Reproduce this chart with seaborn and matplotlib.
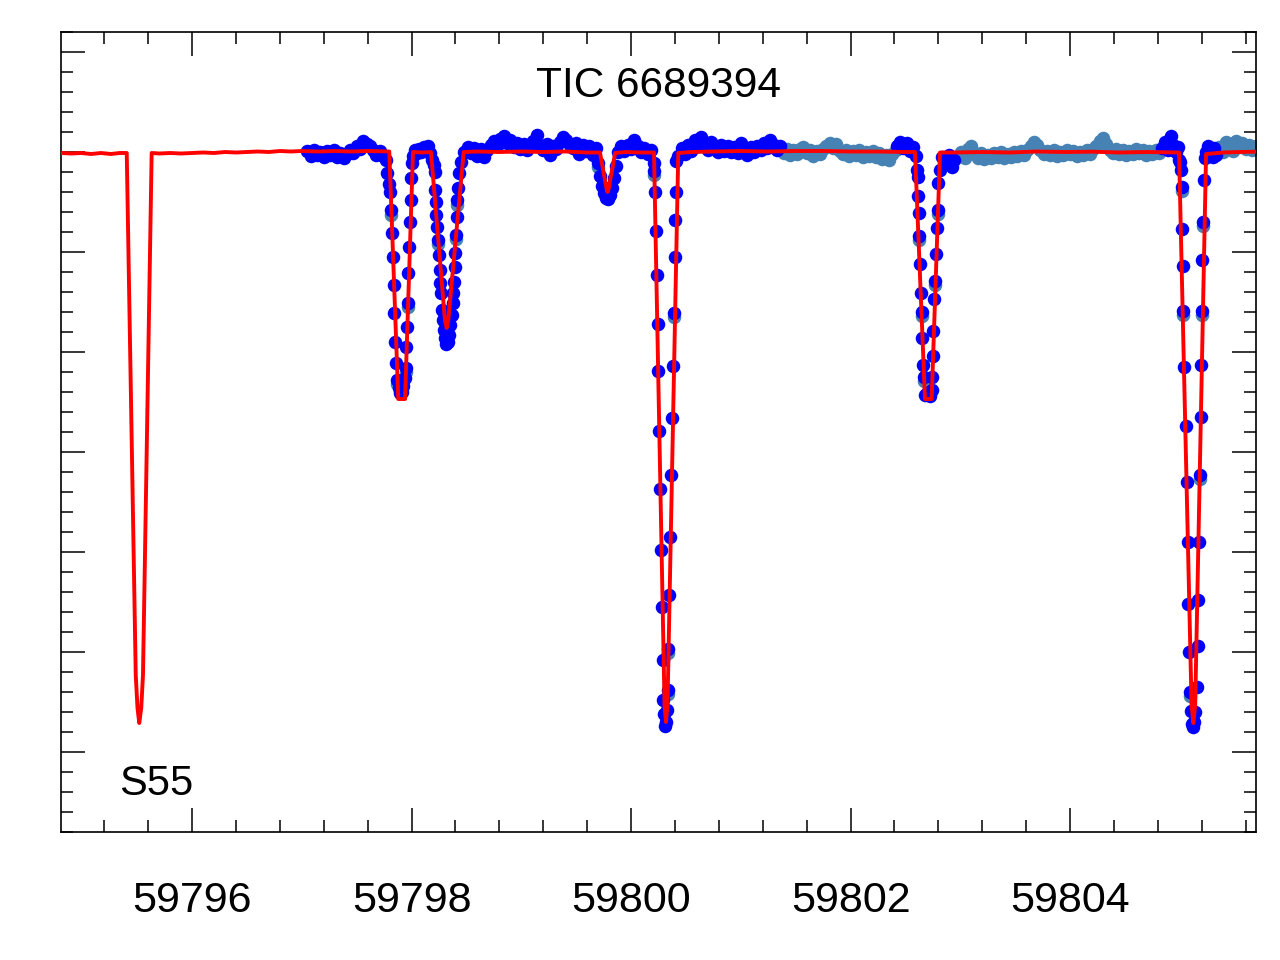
import numpy as np
import matplotlib
matplotlib.use('Agg')
import matplotlib.pyplot as plt
from matplotlib.ticker import MultipleLocator, FormatStrFormatter
import seaborn as sns

# Light curve of TIC 6689394, sector 55 (flux normalised to 1)

# dark blue points: detrended flux
blue_time = [
    # before first eclipse
    59797.05, 59797.08, 59797.11, 59797.14, 59797.17, 59797.20, 59797.23, 59797.26,
    59797.29, 59797.32, 59797.35, 59797.38, 59797.41, 59797.44, 59797.47, 59797.50,
    59797.53, 59797.56, 59797.59, 59797.62, 59797.65, 59797.68, 59797.71, 59797.74,
    59797.77,
    # eclipse A
    59797.778, 59797.796, 59797.804, 59797.815, 59797.826, 59797.830, 59797.836, 59797.842,
    59797.849, 59797.858, 59797.868, 59797.882, 59797.896, 59797.912, 59797.926, 59797.941,
    59797.950, 59797.953, 59797.962, 59797.968, 59797.972, 59797.980, 59797.986, 59797.993,
    59797.998, 59798.004,
    # between A and B
    59798.012, 59798.030, 59798.050, 59798.070, 59798.090, 59798.110, 59798.130, 59798.150,
    59798.170, 59798.185,
    # eclipse B
    59798.200, 59798.210, 59798.214, 59798.220, 59798.226, 59798.231, 59798.240, 59798.246,
    59798.256, 59798.262, 59798.268, 59798.276, 59798.286, 59798.296, 59798.306, 59798.316,
    59798.330, 59798.342, 59798.352, 59798.364, 59798.374, 59798.380, 59798.387, 59798.395,
    59798.399, 59798.405, 59798.415, 59798.418, 59798.426, 59798.436, 59798.448,
    # out of eclipse
    59798.48, 59798.51, 59798.54, 59798.57, 59798.60, 59798.63, 59798.66, 59798.69,
    59798.72, 59798.75, 59798.78, 59798.81, 59798.84, 59798.87, 59798.90, 59798.93,
    59798.96, 59798.99, 59799.02, 59799.05, 59799.08, 59799.11, 59799.14, 59799.17,
    59799.20, 59799.23, 59799.26, 59799.29, 59799.32, 59799.35, 59799.38, 59799.41,
    59799.44, 59799.47, 59799.50, 59799.53, 59799.56, 59799.59, 59799.62, 59799.65,
    59799.68,
    # shallow dip
    59799.700, 59799.715, 59799.732, 59799.750, 59799.770, 59799.790, 59799.808, 59799.826,
    59799.845, 59799.862,
    59799.88, 59799.91, 59799.94, 59799.97, 59800.00, 59800.03, 59800.06, 59800.09,
    59800.12, 59800.15, 59800.18,
    # eclipse C
    59800.205, 59800.210, 59800.218, 59800.226, 59800.234, 59800.242, 59800.249, 59800.257,
    59800.264, 59800.270, 59800.279, 59800.287, 59800.294, 59800.300, 59800.310, 59800.318,
    59800.325, 59800.333, 59800.340, 59800.347, 59800.356, 59800.366, 59800.373, 59800.380,
    59800.390, 59800.398, 59800.403, 59800.407, 59800.412,
    # after C
    59800.43, 59800.46, 59800.49, 59800.52, 59800.55, 59800.58, 59800.61, 59800.64,
    59800.67, 59800.70, 59800.73, 59800.76, 59800.79, 59800.82, 59800.85, 59800.88,
    59800.91, 59800.94, 59800.97, 59801.00, 59801.03, 59801.06, 59801.09, 59801.12,
    59801.15, 59801.18, 59801.21, 59801.24, 59801.27, 59801.30, 59801.33, 59801.36,
    # before D
    59802.42, 59802.45, 59802.48, 59802.51, 59802.54, 59802.57, 59802.60,
    # eclipse D
    59802.605, 59802.610, 59802.617, 59802.622, 59802.627, 59802.632, 59802.641, 59802.648,
    59802.653, 59802.660, 59802.665, 59802.678, 59802.700, 59802.722, 59802.740, 59802.746,
    59802.749, 59802.754, 59802.760, 59802.768, 59802.776, 59802.786, 59802.795, 59802.801,
    59802.815, 59802.830,
    59802.850, 59802.870, 59802.895, 59802.920, 59802.945,
    # before E
    59804.840, 59804.865, 59804.890, 59804.915, 59804.940, 59804.965, 59804.985, 59804.995,
    # eclipse E
    59805.005, 59805.012, 59805.017, 59805.022, 59805.026, 59805.032, 59805.041, 59805.054,
    59805.063, 59805.070, 59805.077, 59805.084, 59805.093, 59805.099, 59805.112, 59805.118,
    59805.128, 59805.140, 59805.152, 59805.162, 59805.168, 59805.176, 59805.184, 59805.190,
    59805.194, 59805.199, 59805.205, 59805.214, 59805.222, 59805.229,
    59805.240, 59805.255, 59805.270, 59805.285, 59805.300, 59805.315, 59805.330,
]
blue_flux = [
    1.001, 0.996, 1.002, 0.997, 1.000, 0.995, 1.001, 0.997,
    1.002, 0.995, 0.999, 0.994, 0.998, 1.002, 0.999, 1.006,
    1.003, 1.011, 1.008, 1.006, 1.002, 0.997, 1.001, 0.996,
    0.992,
    0.979, 0.968, 0.960, 0.942, 0.919, 0.895, 0.867, 0.839,
    0.810, 0.789, 0.772, 0.764, 0.759, 0.760, 0.766, 0.774,
    0.784, 0.805, 0.825, 0.849, 0.879, 0.905, 0.930, 0.952,
    0.974, 0.989,
    0.996, 1.002, 0.999, 1.003, 1.000, 1.005, 1.001, 1.006,
    0.999, 0.992,
    0.987, 0.980, 0.962, 0.950, 0.937, 0.925, 0.912, 0.897,
    0.882, 0.869, 0.859, 0.842, 0.832, 0.822, 0.814, 0.808,
    0.810, 0.817, 0.827, 0.837, 0.849, 0.859, 0.870, 0.885,
    0.899, 0.917, 0.935, 0.952, 0.964, 0.979, 0.990,
    1.000, 1.005, 0.999, 1.004, 0.996, 1.003, 0.995, 1.002,
    1.007, 1.011, 1.006, 1.013, 1.016, 1.009, 1.012, 1.005,
    1.009, 1.003, 1.008, 1.002, 1.007, 1.011, 1.017, 1.006,
    1.002, 1.008, 0.997, 1.006, 1.003, 1.010, 1.015, 1.012,
    1.007, 1.004, 1.009, 0.998, 1.007, 1.001, 1.006, 0.997,
    1.004,
    0.989, 0.976, 0.966, 0.959, 0.954, 0.953, 0.957, 0.964,
    0.974, 0.986,
    1.000, 1.006, 1.001, 1.007, 1.003, 1.012, 1.006, 1.000,
    1.004, 0.998, 1.002,
    0.989, 0.981, 0.960, 0.921, 0.877, 0.828, 0.781, 0.721,
    0.663, 0.602, 0.545, 0.492, 0.452, 0.438, 0.426, 0.430,
    0.442, 0.462, 0.503, 0.557, 0.615, 0.677, 0.734, 0.786,
    0.839, 0.895, 0.932, 0.960, 0.991,
    0.996, 1.004, 0.998, 1.007, 1.001, 1.012, 1.006, 1.015,
    1.008, 1.002, 1.010, 1.004, 1.000, 1.007, 1.001, 1.006,
    1.000, 1.005, 0.999, 1.009, 1.003, 0.997, 1.005, 1.000,
    1.006, 1.002, 1.009, 1.004, 1.012, 1.007, 1.002, 1.006,
    1.006, 1.010, 1.004, 1.009, 1.001, 1.005, 0.996,
    0.982, 0.975, 0.956, 0.939, 0.916, 0.888, 0.859, 0.840,
    0.814, 0.787, 0.775, 0.757, 0.759, 0.756, 0.762, 0.775,
    0.796, 0.821, 0.853, 0.871, 0.898, 0.924, 0.942, 0.969,
    0.982, 0.995,
    0.994, 0.989, 0.997, 0.985, 0.992,
    1.004, 1.010, 1.002, 1.016, 1.007, 1.000, 1.005, 0.992,
    0.990, 0.982, 0.965, 0.923, 0.886, 0.841, 0.785, 0.726,
    0.670, 0.610, 0.548, 0.500, 0.460, 0.441, 0.428, 0.425,
    0.430, 0.440, 0.465, 0.506, 0.552, 0.610, 0.677, 0.735,
    0.787, 0.841, 0.892, 0.930, 0.972, 0.994,
    1.000, 1.006, 0.996, 1.003, 0.995, 1.004, 0.997,
]

# steel blue points: second reduction (mostly hidden under the blue one)
steel_time = [
    59801.39, 59801.42, 59801.45, 59801.48, 59801.51, 59801.54, 59801.57, 59801.60,
    59801.63, 59801.66, 59801.69, 59801.72, 59801.75, 59801.78, 59801.81, 59801.84,
    59801.87, 59801.90, 59801.93, 59801.96, 59801.99, 59802.02, 59802.05, 59802.08,
    59802.11, 59802.14, 59802.17, 59802.20, 59802.23, 59802.26, 59802.29, 59802.32,
    59802.35, 59802.38, 59802.41,
    59802.97, 59803.01, 59803.04, 59803.07, 59803.10, 59803.13, 59803.16, 59803.19,
    59803.22, 59803.25, 59803.28, 59803.31, 59803.34, 59803.37, 59803.40, 59803.43,
    59803.46, 59803.49, 59803.52, 59803.55, 59803.58, 59803.61, 59803.64, 59803.67,
    59803.70, 59803.73, 59803.76, 59803.79, 59803.82, 59803.85, 59803.88, 59803.91,
    59803.94, 59803.97, 59804.00, 59804.03, 59804.06, 59804.09, 59804.12, 59804.15,
    59804.18, 59804.21, 59804.24, 59804.27, 59804.30, 59804.33, 59804.36, 59804.39,
    59804.42, 59804.45, 59804.48, 59804.51, 59804.54, 59804.57, 59804.60, 59804.63,
    59804.66, 59804.69, 59804.72, 59804.75, 59804.78, 59804.81,
    59805.36, 59805.39, 59805.42, 59805.45, 59805.48, 59805.51, 59805.54, 59805.57,
    59805.60, 59805.63, 59805.66, 59805.69,
    # in-eclipse points peeking out under the blue ones
    59797.815, 59797.968, 59797.950, 59797.870, 59798.418, 59798.405, 59798.240, 59799.700,
    59800.210, 59800.390, 59800.340, 59800.333, 59802.627, 59802.648, 59802.795, 59802.768,
    59802.665, 59805.017, 59805.032, 59805.199, 59805.184, 59805.214, 59805.093,
]
steel_flux = [
    0.999, 1.003, 0.997, 1.002, 0.998, 1.003, 1.005, 0.999,
    1.002, 0.996, 1.001, 0.998, 1.003, 1.006, 1.009, 1.004,
    1.008, 1.001, 0.998, 1.002, 0.996, 1.001, 0.997, 1.002,
    0.995, 1.000, 0.996, 1.001, 0.995, 0.999, 0.993, 0.997,
    0.992, 0.998, 1.002,
    0.995, 1.000, 0.994, 1.003, 1.006, 0.998, 0.994, 0.999,
    0.993, 0.997, 0.994, 0.999, 0.995, 1.000, 0.994, 0.998,
    0.995, 1.000, 0.996, 1.001, 0.997, 1.002, 1.006, 1.010,
    1.007, 1.002, 0.998, 1.001, 0.997, 1.002, 0.996, 1.000,
    0.997, 1.002, 0.998, 1.001, 0.996, 1.000, 0.997, 1.002,
    0.998, 1.003, 1.006, 1.011, 1.014, 1.008, 1.002, 0.999,
    1.003, 0.998, 1.002, 0.997, 1.001, 0.998, 1.003, 0.999,
    1.002, 0.997, 1.001, 0.998, 1.002, 0.999,
    1.005, 1.000, 1.010, 1.006, 1.001, 1.011, 1.005, 1.009,
    1.003, 1.007, 1.002, 1.006,
    0.937, 0.845, 0.780, 0.768, 0.947, 0.913, 0.908, 0.985,
    0.977, 0.835, 0.499, 0.458, 0.912, 0.836, 0.938, 0.867,
    0.771, 0.961, 0.837, 0.837, 0.673, 0.926, 0.456,
]

# red: eclipse model
model_time = [
    59794.806, 59794.900, 59794.990, 59795.080, 59795.170, 59795.260, 59795.340, 59795.405,
    59795.487, 59795.503, 59795.519, 59795.537, 59795.553, 59795.632,
    59795.700, 59795.800, 59795.900, 59796.000, 59796.100, 59796.200, 59796.300, 59796.400,
    59796.500, 59796.600, 59796.700, 59796.800, 59796.900, 59797.000, 59797.150, 59797.300,
    59797.450, 59797.600, 59797.797,
    59797.879, 59797.941, 59798.013, 59798.100, 59798.177,
    59798.304, 59798.320, 59798.335, 59798.475,
    59798.600, 59798.800, 59799.000, 59799.200, 59799.400, 59799.600, 59799.717,
    59799.780, 59799.786, 59799.792, 59799.855,
    59799.950, 59800.100, 59800.209,
    59800.305, 59800.318, 59800.332, 59800.430,
    59800.550, 59800.750, 59801.000, 59801.250, 59801.500, 59801.750, 59802.000, 59802.250,
    59802.500, 59802.587,
    59802.678, 59802.739, 59802.815,
    59802.950, 59803.200, 59803.450, 59803.700, 59803.950, 59804.200, 59804.450, 59804.700,
    59804.993,
    59805.107, 59805.123, 59805.140, 59805.239,
    59805.400, 59805.550, 59805.694,
]
model_flux = [
    0.999, 0.9985, 0.999, 0.998, 0.999, 0.998, 0.999, 0.999,
    0.477, 0.444, 0.429, 0.444, 0.477, 0.999,
    0.9985, 0.999, 0.9985, 0.999, 0.9995, 0.999, 1.000, 0.9995,
    1.000, 1.0005, 1.000, 1.001, 1.0005, 1.001, 1.0005, 1.001,
    1.0005, 1.001, 1.0005,
    0.753, 0.753, 1.000, 0.9995, 1.000,
    0.832, 0.824, 0.832, 1.000,
    1.0005, 1.000, 1.0005, 1.000, 1.0005, 0.9995, 0.9995,
    0.961, 0.960, 0.961, 0.999,
    1.000, 0.9995, 0.9995,
    0.447, 0.430, 0.447, 0.999,
    1.000, 1.0005, 1.001, 1.0005, 1.001, 1.001, 1.0005, 1.0005,
    1.000, 1.000,
    0.753, 0.753, 0.9995,
    0.9995, 1.000, 0.9995, 1.0005, 1.000, 1.0003, 0.9995, 1.000,
    0.9995,
    0.447, 0.429, 0.447, 0.998,
    0.9995, 1.000, 1.0003,
]

x_major = [59796, 59798, 59800, 59802, 59804]

sns.set_style('white')
plt.rcParams['font.family'] = ['Liberation Sans', 'DejaVu Sans']

fig = plt.figure(figsize=(12.8, 9.6), dpi=100)
ax = fig.add_axes([61 / 1280, 128 / 960, 1195 / 1280, 800 / 960])

sns.scatterplot(x=steel_time, y=steel_flux, color='#4682b4', s=95, linewidth=0,
                ax=ax, zorder=2)
sns.scatterplot(x=blue_time, y=blue_flux, color='#0000ff', s=95, linewidth=0,
                ax=ax, zorder=3)
sns.lineplot(x=model_time, y=model_flux, color='#ff0000', lw=2.8, estimator=None,
             sort=False, ax=ax, zorder=4)

ax.set_xlim(59794.806, 59805.694)
ax.set_ylim(0.32, 1.12)
ax.set_xticks(x_major)
ax.xaxis.set_minor_locator(MultipleLocator(0.4))
ax.yaxis.set_major_locator(MultipleLocator(0.1))
ax.yaxis.set_minor_locator(MultipleLocator(0.02))
ax.xaxis.set_major_formatter(FormatStrFormatter('%d'))

ax.tick_params(which='both', direction='in', bottom=True, left=True, top=True,
               right=True, width=1.1, colors='black')
ax.tick_params(which='major', length=17.5)
ax.tick_params(which='minor', length=8.6)
ax.tick_params(axis='y', labelleft=False)
ax.tick_params(axis='x', labelsize=31, pad=35, labelcolor='black')
ax.set_xlabel('')
ax.set_ylabel('')
for sp in ax.spines.values():
    sp.set_linewidth(1.2)
    sp.set_color('black')

ax.text(0.5, 0.919, 'TIC 6689394', transform=ax.transAxes, ha='center',
        va='baseline', fontsize=30.5, color='black')
ax.text(0.049, 0.046, 'S55', transform=ax.transAxes, ha='left',
        va='baseline', fontsize=30, color='black')

fig.savefig('out.png', dpi=100, facecolor='white')
